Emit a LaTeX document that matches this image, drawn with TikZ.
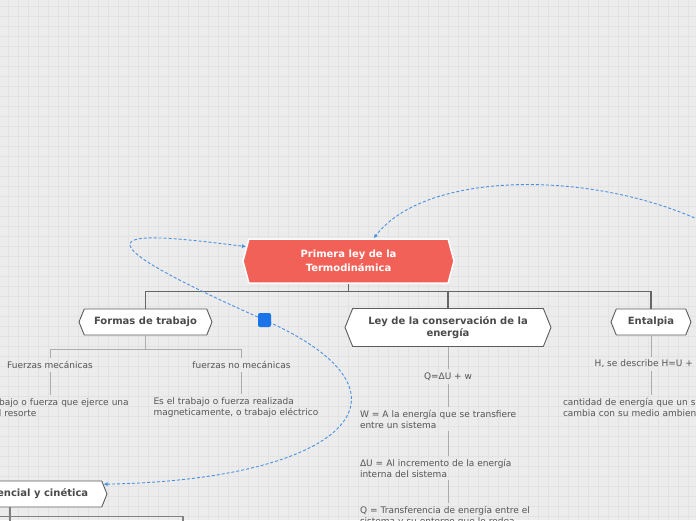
\documentclass[tikz,border=0pt]{standalone}
\usepackage{fontspec}
\setmainfont{DejaVu Sans}
\usepackage{xcolor}
\usetikzlibrary{arrows.meta,positioning,shapes.symbols}

\definecolor{paper}{HTML}{ECECEC}
\definecolor{gridgray}{HTML}{E2E2E2}
\definecolor{coral}{HTML}{F26157}
\definecolor{inkgray}{HTML}{4A4A4A}
\definecolor{textgray}{HTML}{555555}
\definecolor{linkblue}{HTML}{4A90E2}
\definecolor{handleblue}{HTML}{1A73E8}

\begin{document}
\begin{tikzpicture}[
  x=1pt, y=-1pt,
  on grid,
  font=\fontsize{9}{11}\selectfont,
  % Node styles
  central/.style={shape=signal, signal to=east and west, signal pointer angle=150, fill=coral, draw=white, line width=1.5pt, text=white, font=\bfseries\fontsize{10}{14}\selectfont, align=center, inner sep=2pt},
  topic/.style={shape=signal, signal to=east and west, signal pointer angle=136, fill=white, draw=inkgray!90, line width=0.9pt, text=inkgray, font=\bfseries\fontsize{10}{12}\selectfont, align=center, inner sep=2pt, minimum height=26pt},
  leaf/.style={text=textgray, inner sep=3pt},
  note/.style={leaf, text width=176pt, align=left},
  handle/.style={fill=handleblue, rounded corners=2pt, minimum width=13pt, minimum height=14pt, inner sep=0pt},
  % Line styles
  branch/.style={draw=inkgray!85, line width=1.4pt},
  sub/.style={draw=gray!65, line width=0.9pt},
  link/.style={draw=linkblue, dash pattern=on 3pt off 2pt, line width=0.9pt},
  arrowtip/.style={-{Latex[length=4pt,width=4pt]}},
  gridline/.style={draw=gridgray, line width=0.5pt}
]

  % background
  \useasboundingbox (0,0) rectangle (696,520);
  \clip (0,0) rectangle (696,520);
  \fill[paper] (0,0) rectangle (696,520);
  \foreach \gx in {8,18,...,688} \draw[gridline] (\gx,0) -- (\gx,520);
  \foreach \gy in {6,16,...,516} \draw[gridline] (0,\gy) -- (696,\gy);

  % ============================================
  % Topics
  % ============================================
  \node[central, minimum width=211pt, minimum height=44pt] (main) at (348.5,261) {Primera ley de la\\Termodinámica};
  \node[topic, minimum width=133pt, below left=61pt and 203pt of main] (formas) {Formas de trabajo};
  \node[topic, minimum width=206pt, minimum height=38pt, below right=66.5pt and 99.5pt of main] (ley) {Ley de la conservación de la\\energía};
  \node[topic, minimum width=80pt, below right=61pt and 302.5pt of main] (entalpia) {Entalpia};
  \node[topic, minimum width=194pt, below left=172pt and 135.5pt of formas] (energia) {Energía potencial y cinética};

  % Formas de trabajo
  \node[leaf, below left=43pt and 95.5pt of formas] (mec) {Fuerzas mecánicas};
  \node[leaf, below right=43pt and 96pt of formas] (nomec) {fuerzas no mecánicas};
  \node[note, below=42.5pt of mec] (mecdesc) {Es el trabajo o fuerza que ejerce una\\fuerza al resorte};
  \node[note, below=42.5pt of nomec] (nomecdesc) {Es el trabajo o fuerza realizada\\magneticamente, o trabajo eléctrico};

  % Ley de la conservacion
  \node[leaf, below=49pt of ley] (qdu) {Q=ΔU + w};
  \node[note, below=42.5pt of qdu] (wdef) {W = A la energía que se transfiere\\entre un sistema};
  \node[note, below=49pt of wdef] (udef) {ΔU = Al incremento de la energía\\interna del sistema};
  \node[note, below=48pt of udef] (qdef) {Q = Transferencia de energía entre el\\sistema y su entorno que lo rodea};

  % Entalpia
  \node[leaf, below=42pt of entalpia] (hdef) {H, se describe H=U + PV};
  \node[note, below=43.5pt of hdef] (hdesc) {cantidad de energía que un sistema\\cambia con su medio ambiente};

  % free ends outside the frame
  \coordinate (far) at (730,236);
  \coordinate (kid0) at (10,540);
  \coordinate (kid1) at (183,540);
  \coordinate (kidl) at (-150,540);
  \coordinate (mid) at (264.5,320);

  % ============================================
  % Edges
  % ============================================
  \draw[branch] (main.south) -- ++(0,8) -| (formas.north);
  \draw[branch] (main.south) -- ++(0,8) -| (ley.north);
  \draw[branch] (main.south) -- ++(0,8) -| (entalpia.north);

  \draw[sub] (formas.south) -- ++(0,14) -| (mec.north);
  \draw[sub] (formas.south) -- ++(0,14) -| (nomec.north);
  \draw[sub] (mec.south) -- (mecdesc.north);
  \draw[sub] (nomec.south) -- (nomecdesc.north);

  \draw[sub] (ley.south) -- (qdu.north);
  \draw[sub] (qdu.south) -- (wdef.north);
  \draw[sub] (wdef.south) -- (udef.north);
  \draw[sub] (udef.south) -- (qdef.north);

  \draw[sub] (entalpia.south) -- (hdef.north);
  \draw[sub] (hdef.south) -- (hdesc.north);

  \draw[branch, draw=gray] (energia.south) -- (kid0);
  \draw[branch, draw=gray] (energia.south) -- ++(0,9) -| (kid1);
  \draw[branch, draw=gray] (energia.south) -- ++(0,9) -| (kidl);

  % dashed relations
  \draw[link, {Latex[length=4pt,width=4pt]}-{Latex[length=4pt,width=4pt]}] (energia.6) .. controls (340,480) and (435,396) .. (mid) .. controls (50,225) and (130,232) .. (main.172);
  \draw[link, arrowtip] (far) .. controls (620,170) and (430,165) .. (main.42);
  \node[handle] (knob) at (mid) {};

\end{tikzpicture}
\end{document}
